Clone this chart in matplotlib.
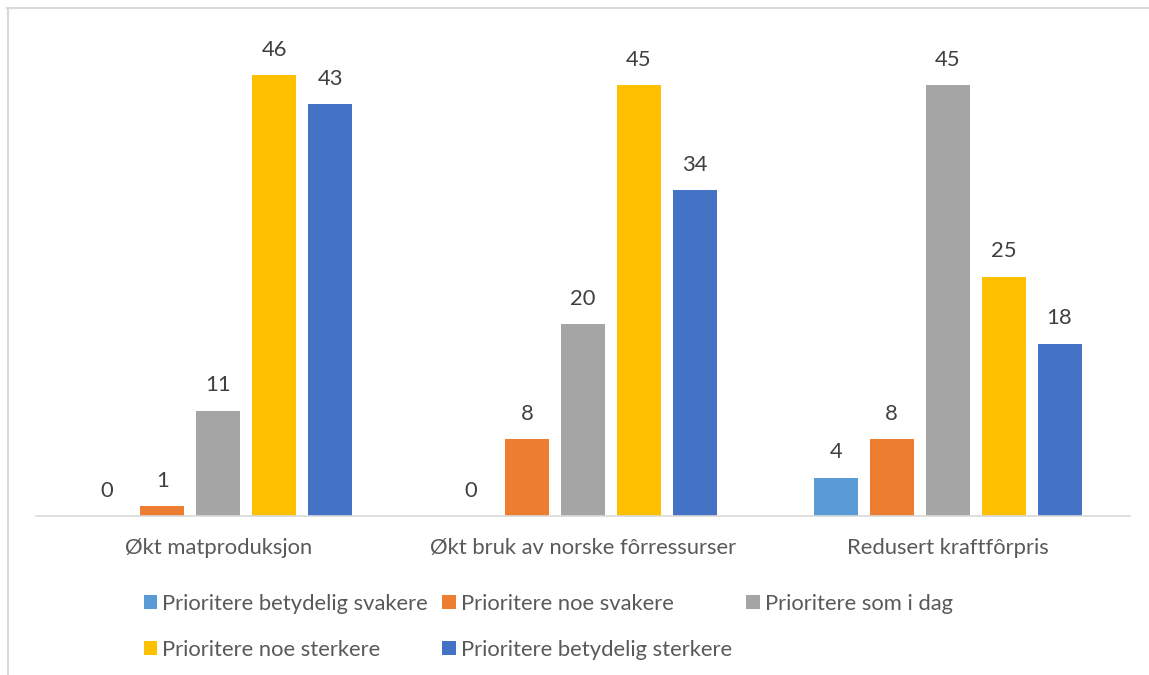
import numpy as np
import matplotlib.pyplot as plt
from matplotlib.lines import Line2D

categories = ["Økt matproduksjon", "Økt bruk av norske fôrressurser", "Redusert kraftfôrpris"]
series_names = ["Prioritere betydelig svakere", "Prioritere noe svakere", "Prioritere som i dag",
                "Prioritere noe sterkere", "Prioritere betydelig sterkere"]
betydelig_svakere = [0, 0, 4]
noe_svakere = [1, 8, 8]
som_i_dag = [11, 20, 45]
noe_sterkere = [46, 45, 25]
betydelig_sterkere = [43, 34, 18]
colors = ["#5B9BD5", "#ED7D31", "#A5A5A5", "#FFC000", "#4472C4"]

series = [betydelig_svakere, noe_svakere, som_i_dag, noe_sterkere, betydelig_sterkere]

plt.rcParams['font.family'] = ['Lato', 'DejaVu Sans']

W, H = 1149, 675
fig = plt.figure(figsize=(W / 100, H / 100), dpi=100)
ax = fig.add_axes([36 / W, 1 - 516 / H, (1130 - 36) / W, (516 - 37) / H])

x = np.arange(len(categories))
step = 0.1534
width = 0.1205
fs = 15.8
bars = []
for i, (vals, col, name) in enumerate(zip(series, colors, series_names)):
    b = ax.bar(x + (i - 2) * step, vals, width, color=col, label=name)
    bars.append(b)
    for rect, v in zip(b, vals):
        ax.annotate(str(v), (rect.get_x() + rect.get_width() / 2, v),
                    xytext=(0, 11), textcoords='offset points',
                    ha='center', va='bottom', fontsize=fs, color='#404040')

ax.set_xlim(-0.5, 2.5)
ax.set_ylim(0, 50)
ax.set_yticks([])
ax.set_xticks(x)
ax.set_xticklabels(categories, fontsize=fs, color='#595959')
ax.tick_params(axis='x', length=0, pad=16)
for s in ['top', 'right', 'left']:
    ax.spines[s].set_visible(False)
ax.spines['bottom'].set_color('#D9D9D9')
ax.spines['bottom'].set_linewidth(1.2)

# legend in Excel row order
order = [0, 3, 1, 4, 2]
handles = [bars[i] for i in order]
labels = [series_names[i] for i in order]
fig.legend(handles, labels, ncol=3, loc='upper left',
           bbox_to_anchor=(135 / W, 1 - 585 / H), frameon=False,
           fontsize=fs, labelcolor='#595959', handlelength=0.6, handleheight=0.6,
           handletextpad=0.25, columnspacing=0.65, labelspacing=1.2, borderaxespad=0)

# chart frame
fig.add_artist(Line2D([7 / W, 1], [1 - 7.5 / H, 1 - 7.5 / H], color='#D9D9D9', lw=1.5))
fig.add_artist(Line2D([7.5 / W, 7.5 / W], [0, 1 - 7.5 / H], color='#D9D9D9', lw=1.5))

fig.savefig('out.png', dpi=100)
